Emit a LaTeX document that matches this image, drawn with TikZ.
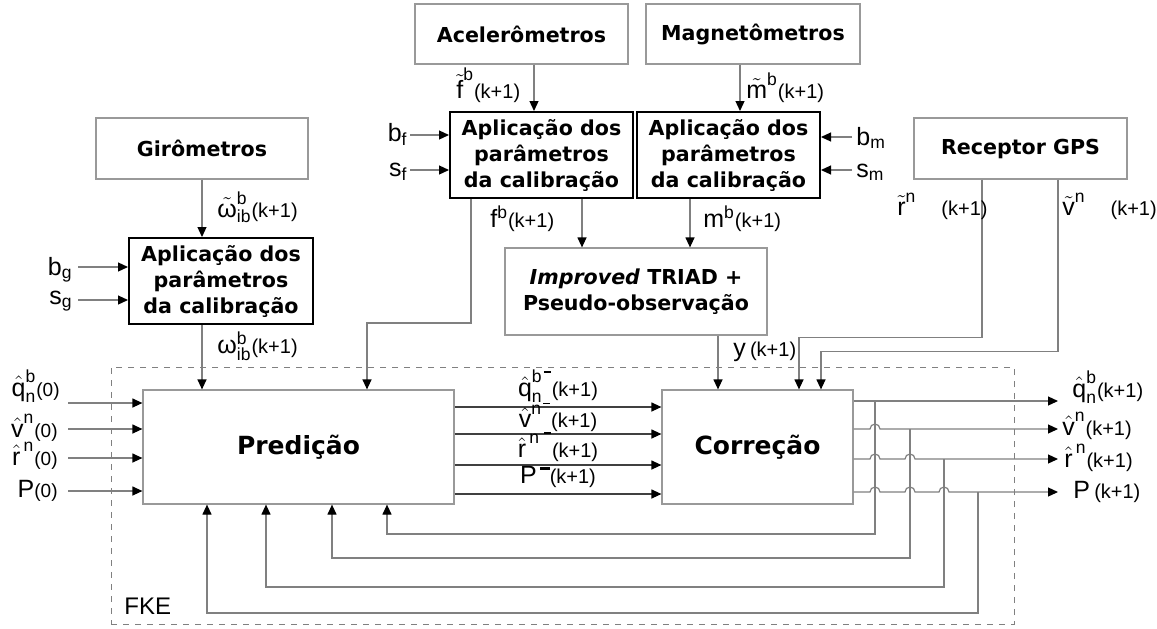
\documentclass[tikz,border=0pt]{standalone}
\usepackage{amsmath}
\usepackage{fontspec}
\setmainfont{Liberation Sans}
\newfontfamily\boxfont{DejaVu Sans}
\usetikzlibrary{arrows.meta}

\newcommand{\tx}[1]{\text{#1}}
\newcommand{\kb}{{\fontsize{10}{11}\selectfont(k+1)}}
\newcommand{\kz}{{\fontsize{9.5}{11}\selectfont(0)}}
\newcommand{\mn}{\kern0.12em\raisebox{0.55em}{\rule{0.4em}{0.11em}}}

\tikzset{
  sensor/.style={draw=gray!80,line width=0.6pt,fill=white,align=center,inner sep=0pt,
    font=\boxfont\bfseries\fontsize{10.3}{13}\selectfont},
  calib/.style={sensor,draw=black,line width=1pt},
  filtro/.style={sensor,font=\boxfont\bfseries\fontsize{12.5}{15}\selectfont},
  fke/.style={draw=gray,dashed,line width=0.5pt,inner sep=0pt},
  wire/.style={draw=gray,line width=0.6pt},
  arr/.style={wire,-{Triangle[length=5pt,width=4.5pt,color=black]}},
  lbl/.style={font=\fontsize{12.5}{14}\selectfont,inner sep=0pt},
}

\begin{document}
\begin{tikzpicture}[x=0.5pt,y=-0.5pt]
  \useasboundingbox (0,0) rectangle (1157,628);

  \node[fke,minimum width=451.5pt,minimum height=128.5pt] (FKE) at (562.5,495.5) {};
  \node[lbl,font=\fontsize{12}{14}\selectfont,anchor=base west] (lfke) at (124,614) {FKE};

  % sensores
  \node[sensor,minimum width=106pt,minimum height=30.5pt] (Gir) at (202,148.5) {Girômetros};
  \node[sensor,minimum width=106.5pt,minimum height=30pt] (Ace) at (521.5,34) {Acelerômetros};
  \node[sensor,minimum width=107pt,minimum height=30pt] (Mag) at (753,34) {Magnetômetros};
  \node[sensor,minimum width=106.5pt,minimum height=30.5pt] (GPS) at (1020.5,148.5) {Receptor GPS};

  % calibracao
  \node[calib,minimum width=92pt,minimum height=43pt] (CalG) at (221,281) {Aplicação dos\\parâmetros\\da calibração};
  \node[calib,minimum width=91.5pt,minimum height=43pt] (CalF) at (541.5,155) {Aplicação dos\\parâmetros\\da calibração};
  \node[calib,minimum width=91.5pt,minimum height=43pt] (CalM) at (728.5,155) {Aplicação dos\\parâmetros\\da calibração};

  \node[sensor,minimum width=131pt,minimum height=43.5pt] (Triad) at (636,291.5) {\textit{Improved} TRIAD +\\Pseudo-observação};

  \node[filtro,minimum width=155.5pt,minimum height=57pt] (Pred) at (298.5,447) {Predição};
  \node[filtro,minimum width=95.5pt,minimum height=57pt] (Corr) at (757.5,447) {Correção};

  % entradas
  \coordinate (bg) at (78,267);  \coordinate (sg) at (78,300);
  \coordinate (bf) at (410,135); \coordinate (sf) at (410,170);
  \coordinate (bm) at (852,137); \coordinate (sm) at (852,170);
  \coordinate (q0) at (68,403);  \coordinate (v0) at (68,429);
  \coordinate (r0) at (68,458);  \coordinate (p0) at (68,491);
  \node[lbl,anchor=base east] (lbg) at (73,275) {b$_{\tx{g}}$};
  \node[lbl,anchor=base east] (lsg) at (73,304) {s$_{\tx{g}}$};
  \node[lbl,anchor=base east] (lbf) at (408,141) {b$_{\tx{f}}$};
  \node[lbl,anchor=base east] (lsf) at (408,176) {s$_{\tx{f}}$};
  \node[lbl,anchor=base west] (lbm) at (856,145) {b$_{\tx{m}}$};
  \node[lbl,anchor=base west] (lsm) at (856,177) {s$_{\tx{m}}$};
  \node[lbl,anchor=base east] (lq0) at (60,396) {$\hat{\tx{q}}^{\tx{b}}_{\tx{n}}$\kz};
  \node[lbl,anchor=base east] (lv0) at (58,437) {$\hat{\tx{v}}^{\tx{n}}$\kz};
  \node[lbl,anchor=base east] (lr0) at (58,465) {$\hat{\tx{r}}^{\,\tx{n}}$\kz};
  \node[lbl,anchor=base east] (lp0) at (58,497) {P\kz};

  \draw[arr] (bg) -- (bg -| CalG.west);
  \draw[arr] (sg) -- (sg -| CalG.west);
  \draw[arr] (bf) -- (bf -| CalF.west);
  \draw[arr] (sf) -- (sf -| CalF.west);
  \draw[arr] (bm) -- (bm -| CalM.east);
  \draw[arr] (sm) -- (sm -| CalM.east);
  \draw[arr] (q0) -- (q0 -| Pred.west);
  \draw[arr] (v0) -- (v0 -| Pred.west);
  \draw[arr] (r0) -- (r0 -| Pred.west);
  \draw[arr] (p0) -- (p0 -| Pred.west);

  % sinais dos sensores
  \draw[arr] (Gir.south) -- (Gir.south |- CalG.north);
  \draw[arr] (Gir.south |- CalG.south) -- (Gir.south |- Pred.north);
  \draw[arr] ([xshift=6.25pt]Ace.south) -- ([xshift=6.25pt]Ace.south |- CalF.north);
  \draw[arr] ([xshift=-6.5pt]Mag.south) -- ([xshift=-6.5pt]Mag.south |- CalM.north);
  \draw[arr] ([xshift=-35.25pt]CalF.south) -- ++(0,124) -| ([xshift=34.25pt]Pred.north);
  \draw[arr] ([xshift=20.25pt]CalF.south) -- ([xshift=20.25pt]CalF.south |- Triad.north);
  \draw[arr] ([xshift=-19.25pt]CalM.south) -- ([xshift=-19.25pt]CalM.south |- Triad.north);
  \draw[arr] ([xshift=41pt]Triad.south) -- ([xshift=41pt]Triad.south |- Corr.north);
  \draw[arr] ([xshift=-19.25pt]GPS.south) -- ++(0,158) -| ([xshift=20.75pt]Corr.north);
  \draw[arr] ([xshift=18.75pt]GPS.south) -- ++(0,172) -| ([xshift=31.75pt]Corr.north);

  \node[lbl,anchor=base west] (lwt) at (217,217) {$\tilde{\tx{ω}}^{\tx{b}}_{\tx{ib}}$\kb};
  \node[lbl,anchor=base west] (lw) at (217,353) {$\tx{ω}^{\tx{b}}_{\tx{ib}}$\kb};
  \node[lbl,anchor=base west] (lft) at (456,98) {$\tilde{\tx{f}}^{\tx{b}}$\kb};
  \node[lbl,anchor=base west] (lmt) at (746,98) {$\tilde{\tx{m}}^{\tx{b}}$\kb};
  \node[lbl,anchor=base west] (lf) at (490,227) {f$^{\tx{b}}$\kb};
  \node[lbl,anchor=base west] (lm) at (703,227) {m$^{\tx{b}}$\kb};
  \node[lbl,anchor=base west] (ly) at (733,356) {y\,\kb};
  \node[lbl,anchor=base west] (lrt) at (897,215) {$\tilde{\tx{r}}^{\tx{n}}$\quad\kb};
  \node[lbl,anchor=base west] (lvt) at (1062,215) {$\tilde{\tx{v}}^{\tx{n}}$\quad\kb};

  % predicao -> correcao
  \draw[arr,draw=black!75] ([yshift=20pt]Pred.east) -- node[lbl,above=2pt] (lqm) {$\hat{\tx{q}}^{\tx{b\mn}}_{\tx{n}}$\kb} ([yshift=20pt]Corr.west);
  \draw[arr,draw=black!75] ([yshift=6.5pt]Pred.east) -- node[lbl,above=1pt] (lvm) {$\hat{\tx{v}}^{\tx{n\mn}}$\kb} ([yshift=6.5pt]Corr.west);
  \draw[arr,draw=black!75] ([yshift=-9pt]Pred.east) -- node[lbl,above=1.5pt] (lrm) {$\hat{\tx{r}}^{\,\tx{n\,\mn}}$\kb} ([yshift=-9pt]Corr.west);
  \draw[arr,draw=black!75] ([yshift=-23.5pt]Pred.east) -- node[lbl,above=3pt] (lpm) {P\mn\kb} ([yshift=-23.5pt]Corr.west);

  % saidas
  \coordinate (qo) at (1058,401); \coordinate (vo) at (1058,429);
  \coordinate (ro) at (1058,459); \coordinate (po) at (1058,492);
  \node[lbl,anchor=base west] (lqo) at (1072,397) {$\hat{\tx{q}}^{\tx{b}}_{\tx{n}}$\kb};
  \node[lbl,anchor=base west] (lvo) at (1062,435) {$\hat{\tx{v}}^{\tx{n}}$\kb};
  \node[lbl,anchor=base west] (lro) at (1064,467) {$\hat{\tx{r}}^{\,\tx{n}}$\kb};
  \node[lbl,anchor=base west] (lpo) at (1073,498) {P\,\kb};

  \draw[arr] ([yshift=23pt]Corr.east) -- (qo);
  \draw[arr] ([yshift=9pt]Corr.east) -- (870,429) arc[start angle=180,end angle=0,radius=2.5pt] -- (vo);
  \draw[arr] ([yshift=-6pt]Corr.east) -- (870,459) arc[start angle=180,end angle=0,radius=2.5pt]
    -- (905,459) arc[start angle=180,end angle=0,radius=2.5pt] -- (ro);
  \draw[arr] ([yshift=-22.5pt]Corr.east) -- (870,492) arc[start angle=180,end angle=0,radius=2.5pt]
    -- (905,492) arc[start angle=180,end angle=0,radius=2.5pt]
    -- (939,492) arc[start angle=180,end angle=0,radius=2.5pt] -- (po);

  % realimentacao
  \coordinate (bq) at (875,401); \coordinate (bv) at (910,429);
  \coordinate (br) at (944,459); \coordinate (bp) at (978,492);
  \draw[arr] (bq) -- ++(0,133) -| ([xshift=44.25pt]Pred.south);
  \draw[arr] (bv) -- ++(0,129) -| ([xshift=16.75pt]Pred.south);
  \draw[arr] (br) -- ++(0,128) -| ([xshift=-16.25pt]Pred.south);
  \draw[arr] (bp) -- ++(0,121) -| ([xshift=-45.75pt]Pred.south);
\end{tikzpicture}
\end{document}
